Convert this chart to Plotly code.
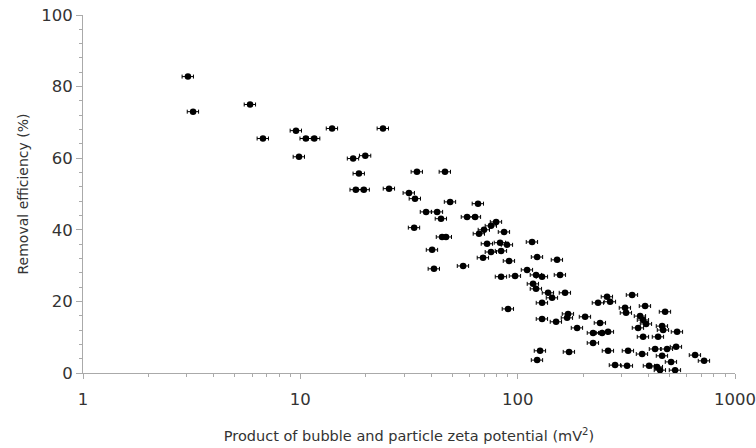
import plotly.graph_objects as go

# Product of bubble and particle zeta potential (mV^2)
zeta_product = [
    3.04, 3.21, 5.87, 6.73, 9.55, 9.86, 10.6, 11.6, 14.0, 24.0,
    17.5, 19.9, 18.6, 18.0, 19.6, 25.6, 34.4, 46.3, 31.6, 33.7,
    48.9, 65.7, 37.9, 42.6, 44.4, 58.5, 63.7, 33.4, 44.9, 46.8,
    40.4, 41.2, 56.1, 79.6, 75.4, 70.0, 66.4, 86.6, 72.3, 83.0,
    89.4, 75.4, 83.9, 69.3, 91.3, 116.5, 122.9, 151.8, 83.9, 97.3,
    110.5, 121.5, 129.5, 156.7, 117.7, 121.5, 138.0, 144.0, 129.5, 165.2,
    90.3, 129.5, 150.2, 168.8, 170.6, 187.7, 204.3, 126.8, 122.9, 172.4,
    239.4, 257.8, 336.2, 234.4, 266.2, 222.3, 244.5, 260.6, 222.3, 312.0,
    315.3, 385.8, 365.9, 377.7, 389.9, 358.2, 476.9, 461.9, 466.9, 541.4,
    377.7, 442.7, 260.6, 322.1, 373.8, 428.9, 487.0, 535.7, 461.9, 508.1,
    655.2, 720.8, 280.7, 318.7, 402.4, 437.9, 452.0, 530.1,
]

# Removal efficiency (%)
removal_eff = [
    82.8, 73.0, 75.0, 65.5, 67.7, 60.4, 65.5, 65.5, 68.3, 68.3,
    59.9, 60.7, 55.7, 51.2, 51.2, 51.5, 56.2, 56.2, 50.3, 48.7,
    47.8, 47.3, 45.0, 45.0, 43.1, 43.6, 43.6, 40.6, 38.0, 38.0,
    34.4, 29.1, 29.9, 42.2, 41.1, 40.0, 38.9, 39.4, 36.1, 36.4,
    35.8, 33.8, 34.1, 32.2, 31.3, 36.6, 32.4, 31.6, 26.9, 27.1,
    28.8, 27.4, 26.9, 27.4, 24.9, 23.5, 22.4, 21.0, 19.6, 22.4,
    17.9, 15.1, 14.3, 15.4, 16.5, 12.6, 15.7, 6.2, 3.6, 5.9,
    14.0, 21.3, 21.8, 19.6, 19.9, 11.2, 11.2, 11.5, 8.4, 18.2,
    16.8, 18.7, 15.9, 14.8, 13.7, 12.6, 17.1, 13.1, 12.0, 11.5,
    10.1, 10.1, 6.2, 6.2, 5.3, 6.7, 6.7, 7.3, 4.8, 3.1,
    5.0, 3.4, 2.2, 2.0, 2.0, 1.7, 0.8, 0.8,
]

x_tick_vals = [1, 10, 100, 1000]
x_tick_text = ["1", "10", "100", "1000"]
x_minor_vals = [m * d for d in (1, 10, 100) for m in range(2, 10)]
y_tick_vals = [0, 20, 40, 60, 80, 100]

font_family = "DejaVu Sans, Arial, sans-serif"
text_color = "#333333"
axis_color = "#aaaaaa"

fig = go.Figure()
fig.add_trace(go.Scatter(
    x=zeta_product,
    y=removal_eff,
    mode="markers",
    marker=dict(symbol="circle", size=6.5, color="black"),
    error_x=dict(type="percent", value=6, symmetric=True,
                 color="black", thickness=1, width=2),
    showlegend=False,
    hoverinfo="x+y",
))

fig.update_layout(
    width=756, height=448,
    margin=dict(l=83, r=21, t=15, b=75),
    paper_bgcolor="white", plot_bgcolor="white",
    font=dict(family=font_family, color=text_color),
    xaxis=dict(
        type="log", range=[0, 3], automargin=False,
        tickvals=x_tick_vals, ticktext=x_tick_text,
        ticks="outside", ticklen=5, tickcolor=axis_color, tickwidth=1,
        minor=dict(tickvals=x_minor_vals, ticks="outside", ticklen=3,
                   tickcolor=axis_color, tickwidth=1, showgrid=False),
        showline=True, linecolor=axis_color, linewidth=1,
        showgrid=False, zeroline=False,
        tickfont=dict(size=16.5, color=text_color),
        ticklabelstandoff=6,
        title=dict(text="Product of bubble and particle zeta potential (mV<sup>2</sup>)",
                   font=dict(size=14.5, color=text_color), standoff=23),
    ),
    yaxis=dict(
        range=[0, 100], automargin=False,
        tickvals=y_tick_vals,
        ticks="outside", ticklen=6, tickcolor=axis_color, tickwidth=1,
        minor=dict(dtick=4, tick0=0, ticks="outside", ticklen=3,
                   tickcolor=axis_color, tickwidth=1, showgrid=False),
        showline=True, linecolor=axis_color, linewidth=1,
        showgrid=False, zeroline=False,
        tickfont=dict(size=16.5, color=text_color),
        title=dict(text="Removal efficiency (%)",
                   font=dict(size=14, color=text_color), standoff=9),
    ),
)

fig.write_html("out.html", config={"displayModeBar": False},
               post_script="document.body.style.margin='0';")
